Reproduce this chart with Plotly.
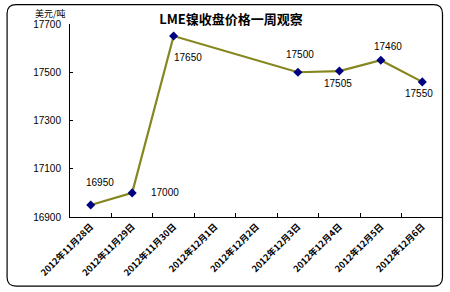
import plotly.graph_objects as go

dates = ["2012年11月28日", "2012年11月29日", "2012年11月30日", "2012年12月1日", "2012年12月2日",
         "2012年12月3日", "2012年12月4日", "2012年12月5日", "2012年12月6日"]
prices = [16950, 17000, 17650, None, None, 17500, 17505, 17550, 17460]
point_labels = ["16950", "17000", "17650", "", "", "17500", "17505", "17460", "17550"]
y_ticks = [16900, 17100, 17300, 17500, 17700]

label_shift = [(9, 22), (33, 0), (14, -21), (0, 0), (0, 0), (2, 18), (-1, -12), (7, 14), (-3, -12)]

W, H = 450, 292
L, R, T, B = 70, 6.5, 23.5, 74.5
pw, ph = W - L - R, H - T - B

def px(x):
    return (x - L) / pw

def py(y):
    return (H - B - y) / ph

fig = go.Figure()
fig.add_trace(go.Scatter(
    x=dates, y=prices, mode="lines+markers", connectgaps=True,
    line=dict(color="#86861e", width=2.2),
    marker=dict(symbol="diamond", size=7, color="#000080"),
    hoverinfo="skip",
))

for d, v, t, (dx, dy) in zip(dates, prices, point_labels, label_shift):
    if v is None or not t:
        continue
    fig.add_annotation(x=d, y=v, text=t, showarrow=False, xshift=dx, yshift=dy,
                       xanchor="center", yanchor="middle",
                       font=dict(family="Liberation Sans", size=10, color="#000"))

# outer rounded border
x0, x1, y0, y1, r = 7, 443, 4, 287, 9
path = (f"M {px(x0+r)},{py(y0)} L {px(x1-r)},{py(y0)} Q {px(x1)},{py(y0)} {px(x1)},{py(y0+r)} "
        f"L {px(x1)},{py(y1-r)} Q {px(x1)},{py(y1)} {px(x1-r)},{py(y1)} "
        f"L {px(x0+r)},{py(y1)} Q {px(x0)},{py(y1)} {px(x0)},{py(y1-r)} "
        f"L {px(x0)},{py(y0+r)} Q {px(x0)},{py(y0)} {px(x0+r)},{py(y0)} Z")
fig.add_shape(type="path", path=path, xref="paper", yref="paper",
              line=dict(color="#000", width=1.2), layer="above")

fig.add_annotation(x=px(50), y=py(13), xref="paper", yref="paper", text="美元/吨",
                   xanchor="center", yanchor="middle",
                   showarrow=False, font=dict(family="Noto Sans CJK SC", size=9, color="#000"))

fig.update_layout(
    width=W, height=H,
    margin=dict(l=L, r=R, t=T, b=B),
    paper_bgcolor="white", plot_bgcolor="white",
    showlegend=False,
    title=dict(text="<b>LME镍收盘价格一周观察</b>", x=231 / W, y=1 - 19 / H,
               xanchor="center", yanchor="middle",
               font=dict(family="Noto Sans CJK SC", size=13, color="#000")),
    xaxis=dict(type="category", showgrid=False, showline=True, linecolor="#000", linewidth=1,
               ticks="inside", tickson="boundaries", ticklen=4, tickcolor="#000",
               tickangle=-45, tickfont=dict(family="Noto Sans CJK SC", size=9, color="#000",
                                            weight="bold"),
               range=[-0.5, 8.5], zeroline=False),
    yaxis=dict(range=[16900, 17700], tickvals=y_ticks, ticktext=[str(v) for v in y_ticks],
               showgrid=False, showline=True, linecolor="#000", linewidth=1,
               ticks="inside", ticklen=3, tickcolor="#000", zeroline=False,
               ticklabelstandoff=6,
               tickfont=dict(family="Liberation Sans", size=10, color="#000")),
)

fig.write_html("out.html")
